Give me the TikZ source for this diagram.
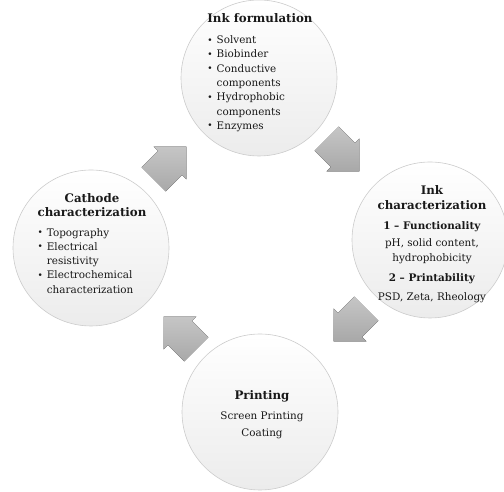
\documentclass[tikz,border=0pt]{standalone}
\usepackage{fontspec}
\setmainfont{DejaVu Serif}
\newcommand{\itm}{\raisebox{0.6pt}{\small\textbullet}}
\newcommand{\ttl}[1]{{\bfseries\fontsize{11.8}{14}\selectfont #1}}

\begin{document}
\begin{tikzpicture}[x=1pt,y=1pt,
    stage/.style={circle,minimum size=156pt,inner sep=0pt,draw=gray!40,line width=0.6pt,top color=white,bottom color=gray!15},
    cyclearrow/.pic={\fill[top color=gray!45,bottom color=gray!68]
        (-23,-17) -- (0,-17) -- (0,-23) -- (23,0) -- (0,23) -- (0,17) -- (-23,17) -- cycle;},
    txt/.style={align=center,text=black!90,inner sep=0pt,font=\fontsize{10.4}{14.3}\selectfont}]
    \useasboundingbox (0,0) rectangle (504,492);
    % the four stages
    \node[stage] (form) at (259,414) {};
    \node[stage] (inkchar) at (430,252) {};
    \node[stage] (print) at (260,80) {};
    \node[stage] (cathode) at (91,244) {};
    % arrows between them
    \pic[rotate=-45] (a1) at (343,337) {cyclearrow};
    \pic[rotate=-135] (a2) at (350,167) {cyclearrow};
    \pic[rotate=135] (a3) at (180,159) {cyclearrow};
    \pic[rotate=45] (a4) at (170,329) {cyclearrow};
    % texts
    \node[txt] (formtxt) at (260,419) {\begin{tabular}{@{}l@{\hspace{4pt}}l@{}}
        \multicolumn{2}{@{}c@{}}{\ttl{Ink formulation}}\\[7pt]
        \itm & Solvent\\
        \itm & Biobinder\\
        \itm & Conductive\\
        & components\\
        \itm & Hydrophobic\\
        & components\\
        \itm & Enzymes
    \end{tabular}};
    \node[txt] (inkchartxt) at (432,247) {\begin{tabular}{@{}c@{}}
        \ttl{Ink}\\
        \ttl{characterization}\\[6pt]
        \textbf{1 – Functionality}\\[3pt]
        pH, solid content,\\
        hydrophobicity\\[6pt]
        \textbf{2 – Printability}\\[5pt]
        PSD, Zeta, Rheology
    \end{tabular}};
    \node[txt] (printtxt) at (262,77) {\begin{tabular}{@{}c@{}}
        \ttl{Printing}\\[6pt]
        Screen Printing\\[3pt]
        Coating
    \end{tabular}};
    \node[txt] (cathodetxt) at (92,247) {\begin{tabular}{@{}l@{\hspace{4pt}}l@{}}
        \multicolumn{2}{@{}c@{}}{\ttl{Cathode}}\\
        \multicolumn{2}{@{}c@{}}{\ttl{characterization}}\\[5pt]
        \itm & Topography\\
        \itm & Electrical\\
        & resistivity\\
        \itm & Electrochemical\\
        & characterization
    \end{tabular}};
\end{tikzpicture}
\end{document}
